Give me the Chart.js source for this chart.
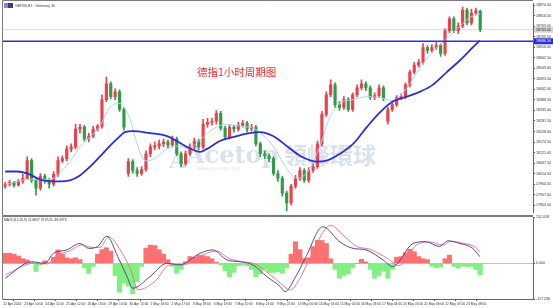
<!DOCTYPE html>
<html><head><meta charset="utf-8">
<script src="https://cdn.jsdelivr.net/npm/chart.js@4.4.1/dist/chart.umd.min.js"></script>
<style>
html,body{margin:0;padding:0;background:#fff;width:553px;height:308px;overflow:hidden}
#main{position:absolute;left:0;top:0}
#macd{position:absolute;left:0;top:213px}
</style></head><body>
<canvas id="main" width="553" height="216"></canvas>
<canvas id="macd" width="553" height="95"></canvas>
<script>
// ---------- data ----------
const chartTitle = 'GER30,H1:  Germany 30';
const noteText = '德指1小时周期图';
const macdTitle = 'MACD(12,26,9) 21.8637 37.9125 -38.0976';
const brandLatin = 'Acetop';
const brandCJK = '領峰環球';
const brandUrl = 'www.acetop.com';

const timeLabels = ['22 Apr 2024','23 Apr 10:00','24 Apr 11:00','25 Apr 12:00','26 Apr 13:00','29 Apr 14:00','30 Apr 15:00','1 May 16:00','2 May 17:00','3 May 18:00','6 May 19:00','7 May 20:00','8 May 21:00','9 May 22:00','13 May 00:00','14 May 01:00','15 May 02:00','16 May 03:00','17 May 04:00','20 May 05:00','21 May 06:00','22 May 07:00','23 May 08:00'];

const priceTicks = [18870.0,18816.5,18763.0,18709.5,18656.0,18602.5,18549.0,18495.5,18442.0,18388.5,18335.0,18281.5,18228.0,18174.5,18121.0,18067.5,18014.0,17960.5,17907.0,17853.5];
const priceMin = 17815, priceMax = 18880;
const levelPrice = 18686.5;

const candleOpen = [17950,17960,17970,17955,17975,17990,18080,17980,17940,18000,
 17980,17960,18010,18080,18090,18140,18150,18240,18250,18190,
 18205,18240,18255,18390,18470,18405,18430,18340,18015,18075,
 18030,18015,18035,18115,18150,18155,18165,18175,18160,18190,
 18115,18065,18115,18150,18180,18150,18265,18275,18280,18320,
 18245,18200,18250,18240,18260,18270,18240,18250,18165,18115,
 18105,18090,18015,17990,17915,17865,17950,17990,18030,17980,
 18030,18050,18165,18315,18415,18465,18365,18350,18390,18340,
 18415,18450,18470,18450,18400,18410,18450,18280,18340,18365,
 18400,18405,18465,18530,18565,18580,18655,18640,18655,18665,
 18625,18740,18800,18740,18765,18845,18780,18830,18840];
const candleClose = [17960,17970,17955,17975,17990,18080,17980,17940,18000,17980,
 17960,18010,18080,18090,18140,18150,18240,18250,18190,18205,
 18240,18255,18390,18470,18405,18430,18340,18250,18075,18030,
 18015,18035,18115,18150,18155,18165,18175,18160,18190,18115,
 18065,18115,18150,18180,18150,18265,18275,18280,18320,18245,
 18200,18250,18240,18260,18270,18240,18250,18165,18115,18105,
 18090,18015,17990,17915,17865,17950,17990,18030,17980,18030,
 18050,18165,18315,18415,18465,18365,18350,18390,18340,18415,
 18450,18470,18450,18400,18410,18450,18395,18340,18365,18400,
 18405,18465,18530,18565,18580,18655,18640,18655,18665,18625,
 18740,18800,18740,18765,18845,18780,18830,18840,18745];
const candleHigh = [17970,17980,17975,17985,18010,18100,18090,17990,18015,18010,
 17990,18025,18100,18105,18155,18165,18265,18265,18260,18220,
 18255,18265,18415,18505,18480,18445,18440,18350,18090,18085,
 18045,18050,18130,18165,18175,18185,18190,18185,18205,18200,
 18125,18130,18165,18195,18190,18290,18295,18295,18335,18330,
 18255,18265,18260,18275,18285,18280,18265,18260,18175,18130,
 18115,18100,18030,18000,17925,17960,18005,18045,18040,18045,
 18065,18180,18330,18430,18490,18475,18380,18405,18400,18425,
 18465,18490,18480,18460,18425,18465,18460,18350,18375,18410,
 18420,18475,18540,18580,18595,18675,18665,18670,18680,18675,
 18750,18810,18810,18780,18860,18855,18850,18855,18845];
const candleLow = [17940,17950,17945,17950,17965,17985,17970,17905,17930,17965,
 17940,17950,18000,18070,18080,18125,18140,18220,18180,18175,
 18195,18230,18245,18380,18395,18390,18330,18235,18000,18015,
 18000,18005,18025,18100,18135,18140,18150,18145,18150,18105,
 18050,18055,18105,18140,18135,18140,18250,18260,18265,18235,
 18185,18190,18225,18230,18250,18225,18230,18155,18100,18090,
 18075,18005,17975,17900,17825,17855,17940,17980,17970,17970,
 18020,18040,18155,18305,18405,18350,18335,18340,18330,18330,
 18405,18440,18435,18390,18390,18400,18385,18265,18330,18355,
 18390,18395,18455,18520,18555,18570,18625,18630,18645,18610,
 18615,18730,18730,18725,18755,18770,18770,18820,18735];

const slowMaIdx = [0,2.7,5,8.6,12.5,14.7,17,19.3,21.5,23.8,26.1,27.2,29,32.9,36.8,39,41.3,44.3,45.9,48.8,51.8,55.6,57.9,60.9,64,67,70.9,73.1,76.1,79.1,82.2,85.2,88.1,91.3,94.3,97.2,100.4,103.4,106.3,107.9];
const slowMaVal = [18025,18025,18015,17980,17975,17980,18005,18050,18100,18155,18205,18225,18230,18220,18205,18180,18150,18125,18140,18180,18200,18220,18225,18205,18155,18105,18075,18080,18115,18165,18250,18325,18380,18405,18430,18465,18530,18590,18655,18690];

const fastMaIdx = [0,5.6,10.2,12.9,15.2,17,19.3,21.5,23.8,26.1,28.4,30,31.8,34,36.8,39.7,41.5,44.3,47.2,50.4,53.4,56.8,60.9,64,66.3,68.6,71.5,73.8,76.1,79.1,82.2,85.2,88.1,91.3,94.3,97.2,100.4,103.4,106.3,107.9];
const fastMaVal = [17960,17985,17985,18030,18090,18150,18200,18255,18350,18370,18290,18165,18080,18090,18140,18155,18140,18185,18240,18265,18255,18240,18155,18040,17990,18020,18150,18300,18370,18390,18405,18400,18385,18450,18550,18635,18700,18765,18815,18825];

const macdHist = [33,33,30,24,15,11,2,-27,-5,8,
 2,20,44,30,18,15,18,12,-15,-33,
 -10,30,45,51,40,-40,-95,-65,-75,-100,
 -60,-10,50,60,58,45,30,12,-10,-33,
 -20,5,22,20,27,25,22,15,3,-5,
 -25,-44,-30,-8,-6,-8,-20,-44,-35,-20,
 -30,-30,-28,-33,-15,30,71,45,15,18,
 55,76,75,65,15,-20,-49,-40,-35,-15,
 0,13,5,-20,-49,-40,-25,-49,-20,20,
 22,35,46,38,22,15,12,-10,-15,-12,
 15,27,-10,-16,-8,-11,-10,-20,-38];
const macdMainIdx = [0,6,9,11,14,17,19,21,23.1,25.6,27.7,29,32.9,36.8,39.7,44.3,47.2,50.4,53.4,56.3,59.5,62.5,63.6,66,68.4,72.2,76.1,79.1,82,85.9,88.1,92.7,95.6,98.8,100.6,103.4,106.3,107.9];
const macdMainVal = [-49,5,0,33,44,65,49,55,89,22,-44,-82,-44,0,-5,33,44,11,5,-5,-44,-76,-93,-45,22,120,70,49,44,11,-11,65,71,55,74,65,49,22];
const macdSigIdx = [0,6.5,9.5,11.5,14.5,17.5,19.8,21.5,23.6,26.3,28.5,30.2,34,37.5,40.5,45,48,51,54,57,60,63,64.8,67,69.2,74,77,80,83,87,89.5,93.5,96.5,99.5,101.3,104,107,107.9];
const macdSigVal = [-38,0,-2,25,40,60,52,52,87,40,-20,-87,-60,-5,-5,28,40,15,5,-3,-35,-70,-88,-50,15,125,90,55,46,15,-8,60,70,60,72,66,52,38];
const macdTicks = [152.018, 0, -117.236];

// ---------- build ----------
const X_MIN = -0.5, X_MAX = 120;
const UP = '#e8424c', DOWN = '#2f9c47';
const candleColors = candleClose.map((c, i) => c >= candleOpen[i] ? UP : DOWN);
const idx = candleClose.map((_, i) => i);
const zip = (a, b) => a.map((v, i) => ({x: v, y: b[i]}));
const lastClose = candleClose[candleClose.length - 1];
const FONT = "'Liberation Sans', Arial, sans-serif";

const mainDecor = {
  id: 'mainDecor',
  beforeDatasetsDraw(chart) {
    const c = chart.ctx; c.save();
    c.fillStyle = 'rgba(110,140,182,0.26)';
    c.textAlign = 'left'; c.textBaseline = 'alphabetic';
    c.font = 'bold 22px "DejaVu Serif"'; c.fillText('A', 169, 168);
    c.font = 'bold 24px "DejaVu Serif"'; c.fillText(brandLatin, 186, 163);
    c.font = '5px "DejaVu Sans"'; c.fillText(brandUrl, 197, 170);
    c.font = 'bold 23px "Noto Sans CJK TC"'; c.textBaseline = 'middle'; c.fillText(brandCJK, 284, 155);
    c.restore();
  },
  afterDatasetsDraw(chart) {
    const c = chart.ctx, ys = chart.scales.y;
    c.save();
    c.strokeStyle = '#7a7a7a'; c.lineWidth = 1;
    c.beginPath();
    c.moveTo(2.5, 215.5); c.lineTo(2.5, 0.5); c.lineTo(533, 0.5);
    c.moveTo(2.5, 215.5); c.lineTo(533, 215.5);
    c.stroke();
    c.fillStyle = '#ee2d2d'; c.font = '10.5px "Noto Sans CJK SC"';
    c.textAlign = 'left'; c.textBaseline = 'middle';
    c.fillText(noteText, 197, 72);
    c.fillStyle = '#8d85d6'; c.fillRect(4, 3, 4, 5);
    c.fillStyle = '#3c3a8c'; c.fillRect(8, 3, 5, 5);
    c.fillStyle = '#333'; c.font = '3.6px ' + FONT; c.fillText(chartTitle, 15, 5.5);
    const by = ys.getPixelForValue(lastClose);
    c.fillStyle = '#d4d4d4'; c.fillRect(534, by - 3, 19, 6);
    c.fillStyle = '#222'; c.font = '3.6px ' + FONT; c.fillText(lastClose.toFixed(2), 536, by);
    const ly = ys.getPixelForValue(levelPrice);
    c.fillStyle = '#2b2bd8'; c.fillRect(534, ly - 3, 19, 6);
    c.fillStyle = '#fff'; c.fillText(levelPrice.toFixed(2), 536, ly);
    c.restore();
  }
};

new Chart(document.getElementById('main'), {
  type: 'bar',
  data: { datasets: [
    {type: 'line', data: zip(slowMaIdx, slowMaVal), borderColor: '#2b2fd6', borderWidth: 1.8, pointRadius: 0, cubicInterpolationMode: 'monotone', order: 0},
    {type: 'line', data: [{x: X_MIN, y: levelPrice}, {x: X_MAX, y: levelPrice}], borderColor: '#2c2ce6', borderWidth: 1.5, pointRadius: 0, order: 0},
    {type: 'line', data: zip(fastMaIdx, fastMaVal), borderColor: '#a9d3f5', borderWidth: 1, pointRadius: 0, cubicInterpolationMode: 'monotone', order: 1},
    {data: idx.map(i => ({x: i, y: [candleOpen[i], candleClose[i]]})), backgroundColor: candleColors, barThickness: 2.5, grouped: false, order: 2},
    {data: idx.map(i => ({x: i, y: [candleLow[i], candleHigh[i]]})), backgroundColor: candleColors, barThickness: 1, grouped: false, order: 3},
    {type: 'line', data: [{x: X_MIN, y: lastClose}, {x: X_MAX, y: lastClose}], borderColor: '#dadada', borderWidth: 1, pointRadius: 0, order: 6}
  ]},
  options: {
    responsive: false, animation: false, events: [], devicePixelRatio: 1,
    layout: {padding: {top: 2, left: 3, right: 0, bottom: 1}},
    plugins: {legend: {display: false}, tooltip: {enabled: false}},
    scales: {
      x: {type: 'linear', min: X_MIN, max: X_MAX, offset: false, display: false},
      y: {type: 'linear', position: 'right', min: priceMin, max: priceMax, beginAtZero: false,
        afterBuildTicks: s => { s.ticks = priceTicks.map(v => ({value: v})); },
        afterFit: s => { s.width = 20; },
        ticks: {callback: v => Number(v).toFixed(2), font: {family: FONT, size: 3.6}, color: '#333', padding: 1, autoSkip: false},
        grid: {drawOnChartArea: false, drawTicks: true, tickLength: 2, tickColor: '#555'},
        border: {display: true, color: '#666', width: 1}
      }
    }
  },
  plugins: [mainDecor]
});

const macdDecor = {
  id: 'macdDecor',
  afterDatasetsDraw(chart) {
    const c = chart.ctx; c.save();
    c.strokeStyle = '#7a7a7a'; c.lineWidth = 1;
    c.beginPath(); c.moveTo(2.5, 86.5); c.lineTo(2.5, 3.5); c.lineTo(533, 3.5); c.stroke();
    c.fillStyle = '#333'; c.font = '3.3px ' + FONT; c.textBaseline = 'middle'; c.textAlign = 'left';
    c.fillText(macdTitle, 4, 7.5);
    c.restore();
  }
};

const xTickPos = timeLabels.map((_, k) => -0.45 + k * 4.785);

new Chart(document.getElementById('macd'), {
  type: 'bar',
  data: { datasets: [
    {type: 'line', data: zip(macdMainIdx, macdMainVal), borderColor: '#57479a', borderWidth: 1, pointRadius: 0, cubicInterpolationMode: 'monotone', order: 0},
    {type: 'line', data: zip(macdSigIdx, macdSigVal), borderColor: '#e57a8c', borderWidth: 1, pointRadius: 0, cubicInterpolationMode: 'monotone', order: 0},
    {data: idx.map(i => ({x: i, y: macdHist[i]})), backgroundColor: macdHist.map(v => v >= 0 ? '#ff7070' : '#80f080'), barPercentage: 1, categoryPercentage: 1, grouped: false, order: 2}
  ]},
  options: {
    responsive: false, animation: false, events: [], devicePixelRatio: 1,
    layout: {padding: {top: 4, left: 3, right: 0, bottom: 0}},
    plugins: {legend: {display: false}, tooltip: {enabled: false}},
    scales: {
      x: {type: 'linear', min: X_MIN, max: X_MAX, offset: false, position: 'bottom',
        afterBuildTicks: s => { s.ticks = xTickPos.map(v => ({value: v})); },
        afterFit: s => { s.height = 9; },
        ticks: {callback: (v, i) => timeLabels[i], align: 'start', maxRotation: 0, autoSkip: false, font: {family: FONT, size: 3.3}, color: '#333', padding: 1},
        grid: {drawOnChartArea: false, drawTicks: true, tickLength: 2, tickColor: '#555'},
        border: {display: true, color: '#666', width: 1}
      },
      y: {type: 'linear', position: 'right', min: macdTicks[2], max: macdTicks[0], beginAtZero: false,
        afterBuildTicks: s => { s.ticks = macdTicks.map(v => ({value: v})); },
        afterFit: s => { s.width = 20; },
        ticks: {callback: v => Number(v).toFixed(3), font: {family: FONT, size: 3.6}, color: '#333', padding: 1, autoSkip: false},
        grid: {drawOnChartArea: true, color: ctx => (ctx.tick && ctx.tick.value === 0) ? '#c4c4c4' : 'rgba(0,0,0,0)', drawTicks: true, tickLength: 2, tickColor: '#555'},
        border: {display: true, color: '#666', width: 1}
      }
    }
  },
  plugins: [macdDecor]
});
</script>
</body></html>
